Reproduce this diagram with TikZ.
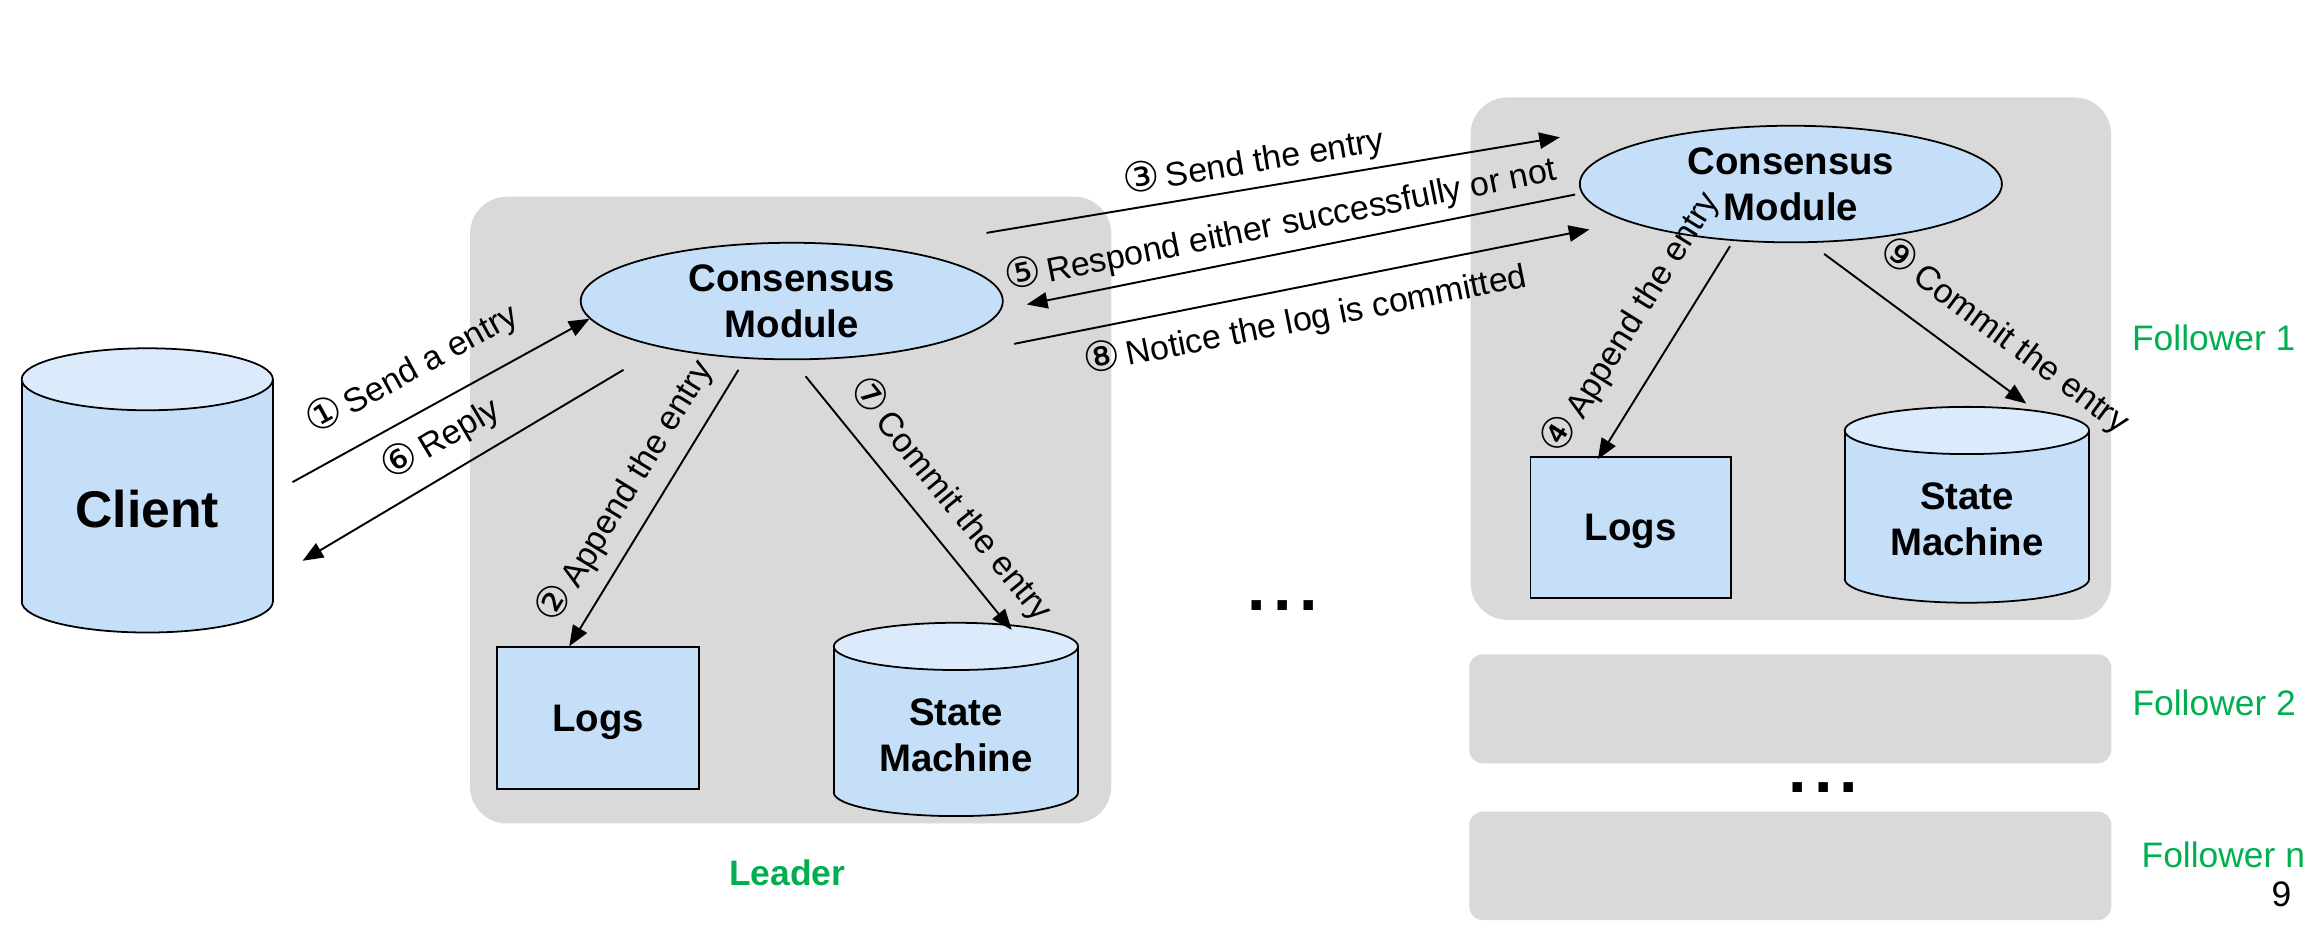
\documentclass[tikz,border=0pt]{standalone}
\usepackage{fontspec}
\setmainfont{Liberation Sans}
\newfontfamily\dejavu{DejaVu Sans}
\usetikzlibrary{shapes.geometric,arrows.meta,calc}
\definecolor{boxgray}{HTML}{D9D9D9}
\definecolor{nodeblue}{HTML}{C6DFF9}
\definecolor{topblue}{HTML}{DCEBFC}
\definecolor{lgreen}{HTML}{00B050}
\newcommand{\cnum}[1]{{\dejavu\fontsize{28}{30}\selectfont #1}}
\newcommand{\drawdb}[5]{% cx, top, bottom, half width, ry
  \filldraw[line width=1.2pt, fill=nodeblue] (#1,{#3-#5}) ellipse [x radius=#4pt, y radius=#5pt];
  \fill[nodeblue] ({#1-#4},{#2+#5}) rectangle ({#1+#4},{#3-#5});
  \draw[line width=1.2pt] ({#1-#4},{#2+#5}) -- ({#1-#4},{#3-#5}) ({#1+#4},{#2+#5}) -- ({#1+#4},{#3-#5});
  \filldraw[line width=1.2pt, fill=topblue] (#1,{#2+#5}) ellipse [x radius=#4pt, y radius=#5pt];
}
\begin{document}
\begin{tikzpicture}[x=1pt,y=-1pt,
  panel/.style={fill=boxgray, rounded corners=25pt},
  flatpanel/.style={fill=boxgray, rounded corners=9pt},
  cmod/.style={ellipse, draw, line width=1.2pt, fill=nodeblue, minimum width=286pt, minimum height=79pt, inner sep=0pt, align=center, font=\fontsize{26}{31}\selectfont\bfseries},
  logbox/.style={draw, line width=1.2pt, fill=nodeblue, inner sep=0pt, text depth=0pt, font=\fontsize{26}{31}\selectfont\bfseries},
  cylbox/.style={inner sep=0pt},
  cyltext/.style={align=center, inner sep=0pt, font=\fontsize{26}{31}\selectfont\bfseries},
  arr/.style={line width=1.3pt, -{Triangle[length=14pt,width=11pt]}},
  lbl/.style={sloped, inner sep=2pt, font=\fontsize{23}{27}\selectfont},
  role/.style={text=lgreen, inner sep=0pt, text depth=0pt, font=\fontsize{24}{28}\selectfont},
  dots/.style={inner sep=0pt, font=\fontsize{45}{45}\selectfont\bfseries},
]
\useasboundingbox (0,0) rectangle (1568,629);

% panels
\fill[panel] (318.5,133.3) rectangle (753,558);
\fill[panel] (996.5,66) rectangle (1430.5,420);
\fill[flatpanel] (995.6,443.4) rectangle (1430.6,517.2);
\fill[flatpanel] (995.6,550) rectangle (1430.6,623.4);

% cylinders
\drawdb{99.8}{236}{428.6}{85.1}{21}
\drawdb{647.75}{422}{553}{82.75}{16}
\drawdb{1332.8}{275.7}{408.4}{82.8}{16}

% client
\node[cylbox, minimum width=170.2pt, minimum height=192.6pt] (client) at (99.8,332.3) {};
\node[cyltext, font=\fontsize{35}{40}\selectfont\bfseries, text depth=0pt] (clienttext) at (99.8,345) {Client};

% leader
\node[cmod] (lc) at (536.5,204) {Consensus\\Module};
\node[logbox, minimum width=137.3pt, minimum height=96pt] (ll) at (405.25,486.5) {Logs};
\node[cylbox, minimum width=165.5pt, minimum height=131pt] (ls) at (647.75,487.5) {};
\node[cyltext] (lstext) at ($(ls.center)+(0,10.5)$) {State\\Machine};
\node[role, font=\fontsize{24}{28}\selectfont\bfseries] (leaderlbl) at (533.5,591) {Leader};

% follower 1
\node[cmod] (fc) at (1213.5,124.7) {Consensus\\Module};
\node[logbox, minimum width=136pt, minimum height=95.4pt] (fl) at (1105,357.5) {Logs};
\node[cylbox, minimum width=165.6pt, minimum height=132.7pt] (fs) at (1332.8,342) {};
\node[cyltext] (fstext) at ($(fs.center)+(0,10)$) {State\\Machine};

\node[role, anchor=west] (f1lbl) at (1444.5,229) {Follower 1};
\node[role, anchor=west] (f2lbl) at (1444.8,476) {Follower 2};
\node[role, anchor=west] (fnlbl) at (1451,579) {Follower n};
\node[inner sep=0pt, text depth=0pt, font=\fontsize{24}{28}\selectfont] (pagenum) at (1546,606) {9};

\node[dots, anchor=base] (dots1) at (869,413.8) {.\kern5pt.\kern5pt.};
\node[dots, anchor=base] (dots2) at (1235.5,537) {.\kern5pt.\kern5pt.};

% free ends
\coordinate (t1) at (198.2,326.7);
\coordinate (t6) at (422.5,250.6);
\coordinate (h6) at (205,380);
\coordinate (t2) at (500.4,250.6);
\coordinate (t7) at (545.9,255);
\coordinate (t3) at (668.5,157.8);
\coordinate (h3) at (1057,93);
\coordinate (t5) at (1067.3,131.8);
\coordinate (h5) at (695.8,206.3);
\coordinate (t8) at (687.2,233);
\coordinate (h8) at (1077,155.5);
\coordinate (t4) at (1172.3,166.8);
\coordinate (t9) at (1236,172);

% connectors
\draw[arr] (t1) -- node[lbl, above=13pt, pos=0.47] {\cnum{①}\,Send a entry} (lc.185);
\draw[arr] (t6) -- node[lbl, above=8pt, pos=0.515] {\cnum{⑥}\,Reply} (h6);
\draw[arr] (t2) -- node[lbl, above=7.5pt, pos=0.503] {\cnum{②}\,Append the entry} ($(ll.north)+(-19.5,0)$);
\draw[arr] (t7) -- node[lbl, above=9pt, pos=0.573] {\cnum{⑦}\,Commit the entry} ($(ls.north)+(37.75,5)$);
\draw[arr] (t3) -- node[lbl, above=3pt, pos=0.474] {\cnum{③}\,Send the entry} (h3);
\draw[arr] (t5) -- node[lbl, above=4.5pt, pos=0.527] {\cnum{⑤}\,Respond either successfully or not} (h5);
\draw[arr] (t8) -- node[lbl, below=6.5pt, pos=0.495] {\cnum{⑧}\,Notice the log is committed} (h8);
\draw[arr] (t4) -- node[lbl, above=15pt, pos=0.469] {\cnum{④}\,Append the entry} ($(fl.north)+(-22.3,2)$);
\draw[arr] (t9) -- node[lbl, above=13pt, pos=0.77] {\cnum{⑨}\,Commit the entry} ($(fs.north)+(40.2,-2)$);
\end{tikzpicture}
\end{document}
